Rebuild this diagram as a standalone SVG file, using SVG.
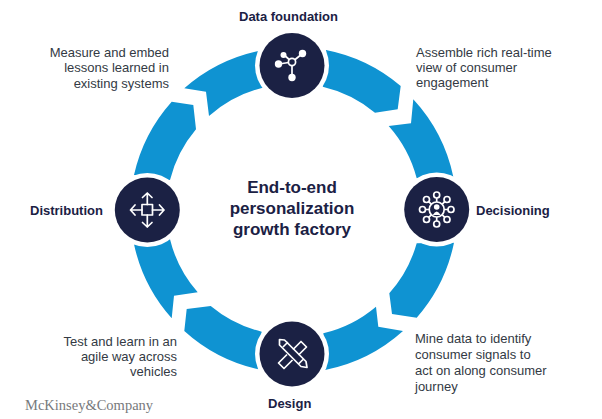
<svg xmlns="http://www.w3.org/2000/svg" width="602" height="419" viewBox="0 0 602 419">
<style>
.seg{fill:#0f93d2}
.halo{fill:#fff}
.disc{fill:#1b2144}
.ic{fill:none;stroke:#fff;stroke-width:1.7;stroke-linejoin:round}
.icf{fill:#fff}
text{font-family:"Liberation Sans",Arial,sans-serif}
.h{font-size:13px;font-weight:700;fill:#1b2144}
.b{font-size:13px;fill:#333a44}
.c{font-size:17px;font-weight:700;fill:#1b2144;text-anchor:middle}
</style>
<rect width="602" height="419" fill="#fff"/>
<g id="connectors">
<path class="seg" d="M326 50A164 164 0 0 1 400.7 86L397.7 109.3L375 112.7A127 127 0 0 0 322.7 86.7Z"/>
<path class="seg" d="M413.3 99.3A164 164 0 0 1 453.3 176.7L416.7 178.3A127 127 0 0 0 388.7 126L411 123.3Z"/>
<path class="seg" d="M454 242.7A164 164 0 0 1 416.7 317.7L392 314L389.3 293.3A127 127 0 0 0 416.7 243.3Z"/>
<path class="seg" d="M403 331A164 164 0 0 1 325 370L323.3 333.3A127 127 0 0 0 376 306.7L378.3 326.7Z"/>
<path class="seg" d="M258.3 369.3A163 163 0 0 1 184.3 331L186.7 309L210.7 306A126 126 0 0 0 261.7 331.7Z"/>
<path class="seg" d="M171.7 318.3A163 163 0 0 1 134 244.3L170 239.3A126 126 0 0 0 197.7 292.3L174 295.7Z"/>
<path class="seg" d="M134 175A163 163 0 0 1 171.7 101.7L193.3 105L196 129.3A126 126 0 0 0 170 180Z"/>
<path class="seg" d="M184.3 88.3A163 163 0 0 1 258.3 51L262.7 87.7A126 126 0 0 0 209 116L206 91.7Z"/>
</g>
<g id="node-data-foundation">
<circle class="halo" cx="292" cy="65.5" r="37"/><circle class="disc" cx="292" cy="65.5" r="32.5"/>
<path class="ic" d="M292 62L283 54M292 62L302 54M292 62L279 64M292 62V77"/>
<circle cx="292" cy="62" r="3.6" fill="#1b2144" stroke="#fff" stroke-width="1.7"/>
<circle class="icf" cx="302.5" cy="53.5" r="3.7"/><circle class="icf" cx="283.5" cy="55" r="3"/><circle class="icf" cx="278.5" cy="64" r="3.7"/><circle class="icf" cx="292" cy="77.5" r="3.7"/>
<text class="h" x="239" y="21">Data foundation</text>
</g>
<g id="node-decisioning">
<circle class="halo" cx="436.7" cy="209.5" r="37"/><circle class="disc" cx="436.7" cy="209.5" r="32.5"/>
<g class="ic" stroke-width="1.5">
<circle cx="436.7" cy="209.5" r="7.5"/>
<path d="M436.7 202V198M436.7 217V221M429 209.5H426M444.500 209.500H448M431.500 204.300L428.500 201.300M442 204.300L445 201.300M431.500 214.700L428.500 217.700M442 214.700L445 217.700"/>
<circle cx="436.700" cy="195" r="3"/><circle cx="436.700" cy="224" r="3"/><circle cx="422.500" cy="209.500" r="3"/><circle cx="451" cy="209.500" r="3"/><circle cx="426.500" cy="199.500" r="3"/><circle cx="447" cy="199.500" r="3"/><circle cx="426.500" cy="219.500" r="3"/><circle cx="447" cy="219.500" r="3"/>
</g>
<circle class="icf" cx="436.700" cy="207" r="2.800"/><path class="icf" d="M432.800 215Q436.700 208 440.600 215Z"/>
<text class="h" x="476" y="215">Decisioning</text>
</g>
<g id="node-design">
<circle class="halo" cx="292" cy="354" r="37"/><circle class="disc" cx="292" cy="354" r="32.5"/>
<g class="ic">
<path d="M279.500 339.500L284.500 340L306 361.500L307 367.500L301 366.500L279.500 345Z M283 347L288 342M298.500 364L304 358.500"/>
<path d="M293 349.500L301 341.500L306.500 347L298.500 355M287 354.500L278.500 363L284 368.500L292.500 360"/>
</g>
<text class="h" x="268" y="408">Design</text>
</g>
<g id="node-distribution">
<circle class="halo" cx="147.300" cy="210" r="37"/><circle class="disc" cx="147.300" cy="210" r="32.500"/>
<g class="ic" stroke-width="1.900" stroke-linecap="round">
<rect x="142" y="204.500" width="10.500" height="10.500" stroke-width="1.700"/>
<path d="M147.300 204.500V193M147.300 215V227M142 210H130.500M152.500 210H164M142.500 197.500L147.300 193L152 197.500M142.500 222.500L147.300 227L152 222.500M135 205L130.500 210L135 215M159.500 205L164 210L159.500 215"/>
</g>
<text class="h" x="30" y="215">Distribution</text>
</g>
<g id="center-label">
<text class="c" x="292" y="193">End-to-end</text>
<text class="c" x="292" y="214">personalization</text>
<text class="c" x="292" y="235">growth factory</text>
</g>
<g id="notes">
<text class="b" x="416" y="57">Assemble rich real-time</text>
<text class="b" x="416" y="72">view of consumer</text>
<text class="b" x="416" y="87">engagement</text>
<text class="b" x="415" y="343">Mine data to identify</text>
<text class="b" x="415" y="359">consumer signals to</text>
<text class="b" x="415" y="375">act on along consumer</text>
<text class="b" x="415" y="391">journey</text>
<text class="b" text-anchor="end" x="169" y="57">Measure and embed</text>
<text class="b" text-anchor="end" x="169" y="72">lessons learned in</text>
<text class="b" text-anchor="end" x="169" y="88">existing systems</text>
<text class="b" text-anchor="end" x="177" y="346">Test and learn in an</text>
<text class="b" text-anchor="end" x="177" y="361">agile way across</text>
<text class="b" text-anchor="end" x="177" y="376">vehicles</text>
</g>
<text x="25" y="410" style="font-family:'Liberation Serif',serif;font-size:14.500px;fill:#77797c">McKinsey&amp;Company</text>
</svg>
